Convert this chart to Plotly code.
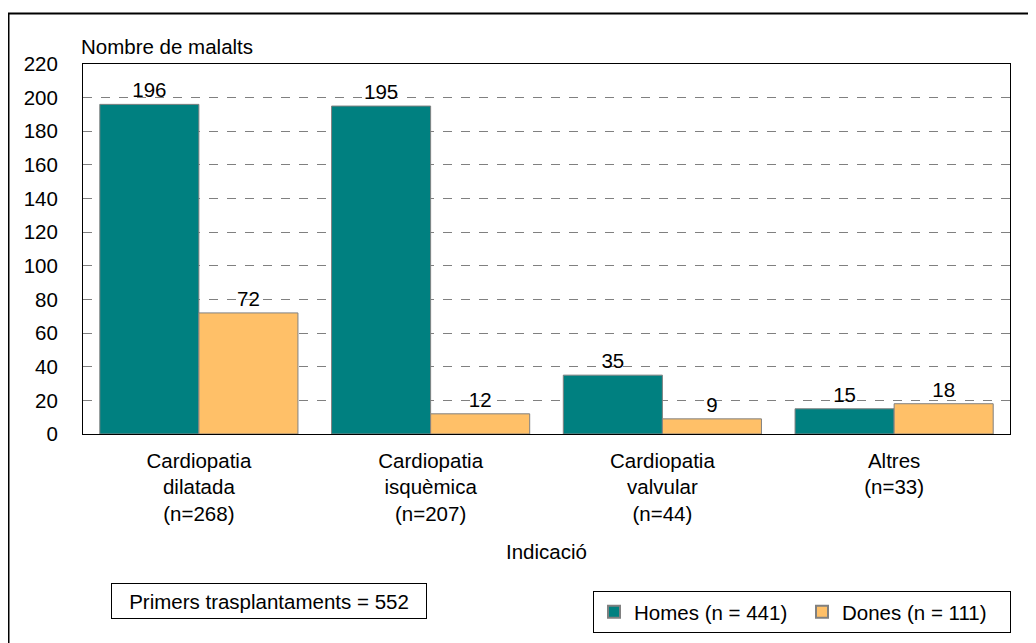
import plotly.graph_objects as go

categories = ["Cardiopatia<br>dilatada<br>(n=268)", "Cardiopatia<br>isquèmica<br>(n=207)",
              "Cardiopatia<br>valvular<br>(n=44)", "Altres<br>(n=33)"]
homes = [196, 195, 35, 15]
dones = [72, 12, 9, 18]
series_names = ["Homes (n = 441)", "Dones (n = 111)"]
y_ticks = list(range(0, 221, 20))

FONT = "Liberation Sans, Arial, sans-serif"
FS = 20.5

OFF = 8  # page body margin
W, H = 1028, 635
L, R, T, B = 75, 26, 56, 209
pw, ph = W - L - R, H - T - B

def px(x):
    return (x - OFF - L) / pw

def py(y):
    return (H - B - (y - OFF)) / ph

fig = go.Figure()
fig.add_trace(go.Bar(x=categories, y=homes, name=series_names[0],
                     marker=dict(color="#008080", line=dict(color="#808080", width=1)),
                     text=homes, textposition="outside", cliponaxis=False,
                     textfont=dict(size=FS, color="black")))
fig.add_trace(go.Bar(x=categories, y=dones, name=series_names[1],
                     marker=dict(color="#FFC068", line=dict(color="#808080", width=1)),
                     text=dones, textposition="outside", cliponaxis=False,
                     textfont=dict(size=FS, color="black")))

fig.update_layout(
    width=W, height=H,
    margin=dict(l=L, r=R, t=T, b=B, autoexpand=False),
    paper_bgcolor="white", plot_bgcolor="white",
    font=dict(family=FONT, size=FS, color="black"),
    barmode="group", bargap=0.145, bargroupgap=0,
    showlegend=True,
    legend=dict(orientation="h", x=px(593), y=py(591), xanchor="left", yanchor="top",
                bordercolor="black", borderwidth=1, bgcolor="white",
                font=dict(size=FS), entrywidth=163, itemsizing="constant",
                traceorder="normal", tracegroupgap=0),
    xaxis=dict(showline=True, linecolor="black", linewidth=1, mirror=True,
               showgrid=False, ticks="", ticklabelstandoff=8, tickfont=dict(size=FS)),
    yaxis=dict(range=[0, 220], tickvals=y_ticks, showline=True, linecolor="black",
               linewidth=1, mirror=True, showgrid=True, gridcolor="#808080",
               griddash="dash", gridwidth=1, ticks="", ticklabelstandoff=20,
               tickfont=dict(size=FS), zeroline=False),
    annotations=[
        dict(text="Nombre de malalts", xref="paper", yref="paper", x=px(79), y=py(46),
             xanchor="left", yanchor="middle", showarrow=False, font=dict(size=FS)),
        dict(text="Indicació", xref="paper", yref="paper", x=0.5, y=py(551),
             xanchor="center", yanchor="middle", showarrow=False, font=dict(size=FS)),
        dict(text="Primers trasplantaments = 552", xref="paper", yref="paper",
             x=px(268.5), y=py(601), xanchor="center", yanchor="middle", showarrow=False,
             font=dict(size=FS), bordercolor="black", borderwidth=1, width=312, height=32,
             bgcolor="white"),
    ],
    shapes=[
        dict(type="path", xref="paper", yref="paper",
             path=f"M {px(8.5)},{py(700)} L {px(8.5)},{py(13.5)} L {px(1100)},{py(13.5)}",
             line=dict(color="black", width=2), layer="above"),
    ],
)

fig.write_html("out.html")
